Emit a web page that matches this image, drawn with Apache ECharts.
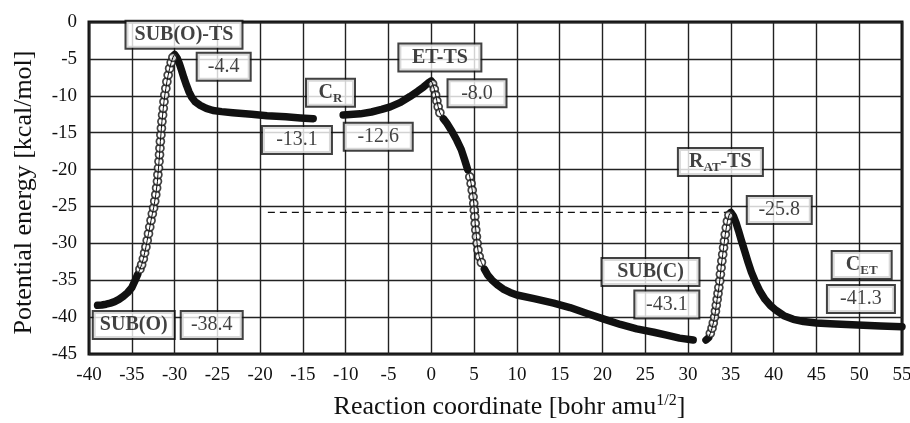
<!DOCTYPE html>
<html><head><meta charset="utf-8">
<script src="https://cdn.jsdelivr.net/npm/echarts@6/dist/echarts.min.js"></script>
<style>html,body{margin:0;padding:0;background:#fff}#c{width:910px;height:423px}</style>
</head><body><div id="c"></div>
<script>
// ---- data ----
const segSubO = [[-39.0,-38.4],[-38.5,-38.35],[-38.0,-38.25],[-37.5,-38.1],[-37.0,-37.9],[-36.5,-37.6],[-36.0,-37.2],[-35.5,-36.7],[-35.0,-36.0],[-34.6,-35.0],[-34.3,-34.2],[-34.05,-33.5],[-33.85,-32.9],[-33.65,-32.1],[-33.5,-31.3],[-33.35,-30.5],[-33.2,-29.6],[-33.05,-28.7],[-32.9,-27.8],[-32.75,-26.9],[-32.6,-26.0],[-32.45,-25.2],[-32.32,-24.3],[-32.2,-23.4],[-32.1,-22.5],[-32.0,-21.6],[-31.95,-20.7],[-31.88,-19.8],[-31.82,-18.9],[-31.76,-18.0],[-31.71,-17.1],[-31.66,-16.2],[-31.6,-15.3],[-31.54,-14.4],[-31.48,-13.5],[-31.4,-12.6],[-31.32,-11.7],[-31.24,-10.8],[-31.14,-9.9],[-31.02,-9.0],[-30.9,-8.1],[-30.75,-7.2],[-30.58,-6.3],[-30.4,-5.5],[-30.2,-4.8],[-30.0,-4.4],[-29.7,-4.9],[-29.45,-5.6],[-29.2,-6.5],[-28.9,-7.6],[-28.6,-8.6],[-28.3,-9.5],[-28.0,-10.2],[-27.6,-10.8],[-27.0,-11.3],[-26.3,-11.7],[-25.5,-12.0],[-24.5,-12.15],[-23.2,-12.3],[-21.0,-12.5],[-19.2,-12.7],[-17.0,-12.85],[-15.3,-13.0],[-13.8,-13.1]];
const segET = [[-10.3,-12.6],[-9.5,-12.55],[-8.3,-12.45],[-7.0,-12.2],[-5.8,-11.85],[-4.8,-11.5],[-3.6,-10.9],[-2.5,-10.1],[-1.6,-9.4],[-0.9,-8.8],[-0.4,-8.3],[0.0,-8.0],[0.15,-8.4],[0.35,-9.1],[0.5,-9.9],[0.65,-10.7],[0.8,-11.5],[1.0,-12.3],[1.4,-13.1],[1.8,-13.7],[2.4,-14.8],[2.97,-16.0],[3.5,-17.3],[3.9,-18.7],[4.25,-20.0],[4.5,-21.0],[4.65,-21.9],[4.78,-22.8],[4.88,-23.7],[4.96,-24.6],[5.02,-25.5],[5.08,-26.4],[5.13,-27.3],[5.2,-28.2],[5.27,-29.1],[5.35,-30.0],[5.45,-30.9],[5.6,-31.8],[5.85,-32.6],[6.2,-33.5],[6.6,-34.3],[7.1,-35.0],[7.7,-35.6],[8.4,-36.2],[9.2,-36.65],[10.0,-37.0],[12.0,-37.5],[14.3,-38.1],[16.2,-38.7],[18.2,-39.5],[20.0,-40.2],[22.1,-41.0],[24.0,-41.6],[26.0,-42.05],[27.5,-42.45],[29.0,-42.85],[30.6,-43.1]];
const segAT = [[32.1,-43.1],[32.4,-42.8],[32.6,-42.2],[32.8,-41.5],[32.95,-40.8],[33.1,-40.0],[33.2,-39.2],[33.3,-38.4],[33.4,-37.6],[33.5,-36.8],[33.6,-36.0],[33.7,-35.1],[33.78,-34.2],[33.86,-33.3],[33.95,-32.4],[34.05,-31.5],[34.15,-30.6],[34.25,-29.7],[34.35,-28.8],[34.47,-27.9],[34.6,-27.0],[34.78,-26.2],[35.0,-25.8],[35.3,-26.3],[35.6,-27.2],[35.9,-28.3],[36.2,-29.5],[36.6,-31.0],[37.0,-32.5],[37.4,-33.9],[37.9,-35.3],[38.4,-36.5],[39.0,-37.6],[39.6,-38.4],[40.3,-39.1],[41.2,-39.8],[42.3,-40.3],[43.5,-40.6],[45.0,-40.8],[46.6,-40.9],[48.5,-41.0],[50.5,-41.1],[52.5,-41.2],[55.0,-41.3]];
const refLineX = [-19.1, 35.0];
const refLineY = [-25.8, -25.8];
const annotations = [
  {text:'{b|SUB(O)-TS}', x:-28.9, y:-1.72, w:117},
  {text:'{n|-4.4}', x:-24.26, y:-6.06, w:54},
  {text:'{n|-13.1}', x:-15.7, y:-16.0, w:70},
  {text:'{b|C}{sub|R}', x:-11.78, y:-9.6, w:49},
  {text:'{n|-12.6}', x:-6.2, y:-15.55, w:69},
  {text:'{b|ET-TS}', x:1.0, y:-4.81, w:83},
  {text:'{n|-8.0}', x:5.34, y:-9.66, w:59},
  {text:'{b|R}{sub|AT}{b|-TS}', x:33.78, y:-18.98, w:85},
  {text:'{n|-25.8}', x:40.66, y:-25.48, w:65},
  {text:'{b|SUB(C)}', x:25.61, y:-33.88, w:98},
  {text:'{n|-43.1}', x:27.52, y:-38.29, w:65},
  {text:'{b|C}{sub|ET}', x:50.29, y:-32.94, w:60},
  {text:'{n|-41.3}', x:50.2, y:-37.54, w:68},
  {text:'{b|SUB(O)}', x:-34.77, y:-41.07, w:82},
  {text:'{n|-38.4}', x:-25.66, y:-41.07, w:62}
];
// ---- style ----
const markerRanges = [[[-34.06,-30.19]], [[0.14,1.01],[4.49,5.86]], [[32.55,34.79]]];
const segs = [segSubO, segET, segAT];
const FONT = 'Liberation Serif';
const INK = '#111';
function inRange(x, ranges, strict){
  return ranges.some(r => strict ? (x > r[0] && x < r[1]) : (x >= r[0] && x <= r[1]));
}
const series = [];
series.push({type:'line', data: refLineX.map((x,i)=>[x, refLineY[i]]), showSymbol:false, silent:true,
  lineStyle:{color:INK, width:1.2, type:[7,5]}, z:2});
segs.forEach((s, k) => {
  series.push({type:'line', data: s.map(p => inRange(p[0], markerRanges[k], true) ? [p[0], '-'] : p),
    connectNulls:false, showSymbol:false, silent:true,
    lineStyle:{color:INK, width:7.5, cap:'round', join:'round'}, z:3});
  series.push({type:'scatter', data: s.filter(p => inRange(p[0], markerRanges[k], false)),
    symbol:'circle', symbolSize:8, silent:true,
    itemStyle:{color:'#fff', borderColor:INK, borderWidth:1.7}, z:4});
  series.push({type:'line', data: s, showSymbol:false, silent:true,
    lineStyle:{color:INK, width:1}, z:5});
});
const rich = {
  b:{fontFamily:FONT, fontSize:20, fontWeight:'bold', color:INK, lineHeight:24},
  n:{fontFamily:FONT, fontSize:20, color:INK, lineHeight:24},
  sub:{fontFamily:FONT, fontSize:13, fontWeight:'bold', color:INK, lineHeight:13, verticalAlign:'bottom'}
};
series.push({type:'scatter', symbolSize:1, silent:true, z:10,
  itemStyle:{color:'rgba(0,0,0,0)'},
  data: annotations.map(a => ({value:[a.x, a.y], label:{show:true, position:'inside', formatter:a.text,
    width:a.w-4, height:24, align:'center', verticalAlign:'middle',
    backgroundColor:'#fff', borderColor:INK, borderWidth:2, padding:[1,1], rich:rich}}))
});
const chart = echarts.init(document.getElementById('c'), null, {renderer:'canvas'});
chart.setOption({
  animation:false,
  backgroundColor:'#fff',
  grid:{left:89, right:8, top:22, bottom:69, outerBoundsMode:'none', containLabel:false,
    show:true, borderColor:INK, borderWidth:3, backgroundColor:'transparent'},
  xAxis:{type:'value', min:-40, max:55, interval:5,
    name:'Reaction coordinate [bohr amu{sup|1/2}]', nameLocation:'middle', nameGap:39,
    nameTextStyle:{fontFamily:FONT, fontSize:26, color:INK, lineHeight:29, padding:[0,0,0,28],
      rich:{sup:{fontFamily:FONT, fontSize:16, color:INK, lineHeight:16, verticalAlign:'top'}}},
    axisLine:{show:false}, axisTick:{show:false},
    axisLabel:{fontFamily:FONT, fontSize:19, color:INK, margin:12},
    splitLine:{show:true, lineStyle:{color:'#222', width:1.4}}},
  yAxis:{type:'value', min:-45, max:0, interval:5,
    name:'Potential energy [kcal/mol]', nameLocation:'middle', nameGap:52,
    nameTextStyle:{fontFamily:FONT, fontSize:26, color:INK, padding:[0,9,0,0]},
    axisLine:{show:false}, axisTick:{show:false},
    axisLabel:{fontFamily:FONT, fontSize:19, color:INK, margin:12},
    splitLine:{show:true, lineStyle:{color:'#222', width:1.4}}},
  series:series
});
</script></body></html>
